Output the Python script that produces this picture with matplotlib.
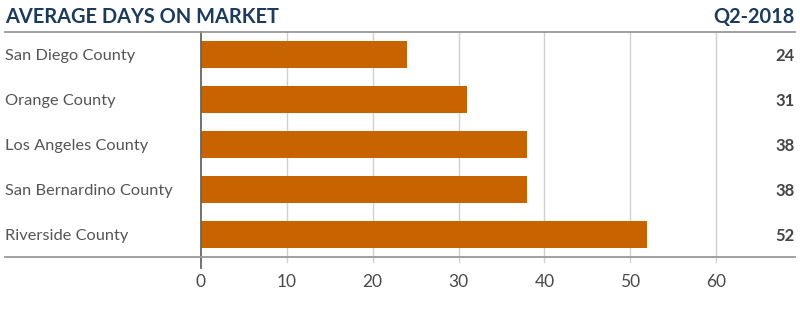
import matplotlib
matplotlib.use('Agg')
import matplotlib.pyplot as plt
from matplotlib.lines import Line2D
import matplotlib.transforms as mtransforms

counties = ['San Diego County', 'Orange County', 'Los Angeles County',
            'San Bernardino County', 'Riverside County']
days = [24, 31, 38, 38, 52]
xticks = [0, 10, 20, 30, 40, 50, 60]
title = 'AVERAGE DAYS ON MARKET'
period = 'Q2-2018'

plt.rcParams['font.family'] = ['Lato', 'DejaVu Sans']

W, H = 800, 335
fig = plt.figure(figsize=(W / 100, H / 100), dpi=100)

# axes placed in pixel terms
left, right, top, bottom = 201, 795, 32, 257
ax = fig.add_axes([left / W, 1 - bottom / H, (right - left) / W, (bottom - top) / H])

bar_color = '#C86400'
ypos = list(range(len(counties)))
ax.barh(ypos, days, height=0.62, color=bar_color, zorder=3)
ax.set_ylim(len(counties) - 0.5, -0.5)
ax.set_xlim(0, 69.2)

for x in xticks[1:]:
    ax.plot([x, x], [-0.5, 4.5 + 5 / 45], color='#d0d0d0', lw=1, zorder=1, clip_on=False)

for s in ax.spines.values():
    s.set_visible(False)
ax.set_yticks([])
ax.set_xticks(xticks)
ax.tick_params(axis='x', length=0, pad=12, labelsize=12.5, labelcolor='#4a4a4a')

# zero line extending below the axis
ax.plot([0, 0], [-0.5, 4.5 + 11 / 45], color='#666666', lw=1.3, clip_on=False, zorder=4)

# category labels on left, value labels on right
trans_l = mtransforms.blended_transform_factory(fig.transFigure, ax.transData)
for i, (c, v) in enumerate(zip(counties, days)):
    ax.text(5 / W, i, c, transform=trans_l, ha='left', va='center_baseline',
            fontsize=11.8, color='#555555')
    ax.text(1.0, i, str(v), transform=ax.get_yaxis_transform(), ha='right',
            va='center_baseline', fontsize=12, color='#444444', fontweight='bold')

# top and bottom rules across the figure
fig.add_artist(Line2D([5 / W, 795 / W], [1 - top / H] * 2, color='#999999', lw=1.3))
fig.add_artist(Line2D([5 / W, 795 / W], [1 - bottom / H] * 2, color='#999999', lw=1.3))

fig.text(5 / W, 1 - 17 / H, title, ha='left', va='center', fontsize=14.4,
         fontweight='bold', color='#1B3A5C')
fig.text(795 / W, 1 - 17 / H, period, ha='right', va='center', fontsize=14.4,
         fontweight='bold', color='#1B3A5C')

fig.savefig('out.png', dpi=100)
